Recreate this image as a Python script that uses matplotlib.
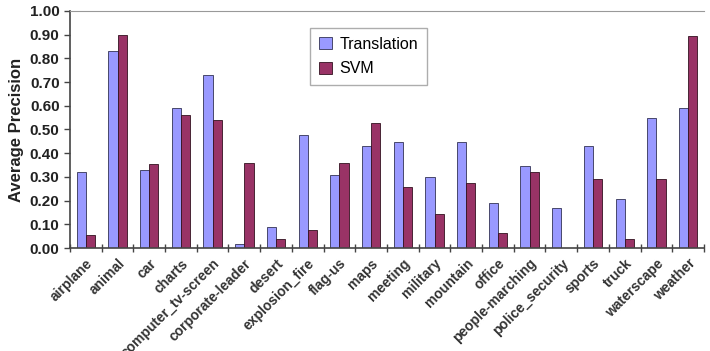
import numpy as np
import matplotlib.pyplot as plt

plt.rcParams["font.family"] = ["Liberation Sans", "DejaVu Sans"]

categories = [
    "airplane", "animal", "car", "charts", "computer_tv-screen",
    "corporate-leader", "desert", "explosion_fire", "flag-us", "maps",
    "meeting", "military", "mountain", "office", "people-marching",
    "police_security", "sports", "truck", "waterscape", "weather",
]
translation = [0.32, 0.83, 0.33, 0.59, 0.73, 0.015, 0.09, 0.475, 0.31, 0.43,
               0.445, 0.30, 0.445, 0.19, 0.345, 0.17, 0.43, 0.205, 0.55, 0.59]
svm = [0.055, 0.90, 0.355, 0.56, 0.54, 0.36, 0.038, 0.075, 0.357, 0.527,
       0.256, 0.144, 0.275, 0.065, 0.32, 0.0, 0.29, 0.04, 0.29, 0.895]
yticks = np.arange(0, 1.01, 0.1)

fig = plt.figure(figsize=(7.1, 3.51), dpi=100)
ax = fig.add_axes([0.0986, 0.2934, 0.8929, 0.6756])

x = np.arange(len(categories))
w = 0.29
ax.bar(x - w / 2, translation, w, color="#9999FF", edgecolor="#333355",
       linewidth=0.6, label="Translation")
ax.bar(x + w / 2, svm, w, color="#993366", edgecolor="#33111f",
       linewidth=0.6, label="SVM")

ax.set_xlim(-0.5, len(categories) - 0.5)
ax.set_ylim(0, 1.0)
ax.set_yticks(yticks)
ax.set_yticklabels([f"{v:.2f}" for v in yticks], fontsize=11, fontweight="bold",
                   color="#222222")
ax.set_ylabel("Average Precision", fontsize=12, fontweight="bold", color="#222222",
              labelpad=4)

# ticks at category boundaries, labels at centers
ax.set_xticks(np.arange(-0.5, len(categories), 1.0))
ax.set_xticklabels([])
ax.tick_params(axis="x", which="major", direction="inout", length=6, width=1,
               color="#444444")
ax.set_xticks(x, minor=True)
ax.set_xticklabels(categories, minor=True, rotation=45, ha="right",
                   rotation_mode="anchor", fontsize=10, fontweight="bold",
                   color="#333333")
ax.tick_params(axis="x", which="minor", length=0, pad=6)
ax.tick_params(axis="y", direction="out", length=4, width=1, color="#444444")

ax.spines["right"].set_visible(False)
ax.spines["top"].set_color("#999999")
ax.spines["left"].set_color("#444444")
ax.spines["bottom"].set_color("#444444")
ax.spines["left"].set_linewidth(1.2)
ax.spines["bottom"].set_linewidth(1.2)

leg = ax.legend(loc="upper left", bbox_to_anchor=(0.366, 0.962), fontsize=11.5,
                frameon=True, fancybox=False, edgecolor="#999999",
                handlelength=0.8, handleheight=0.8, borderpad=0.55,
                labelspacing=0.6, handletextpad=0.5)
leg.get_frame().set_linewidth(1.0)

fig.savefig("out.png", dpi=100)
